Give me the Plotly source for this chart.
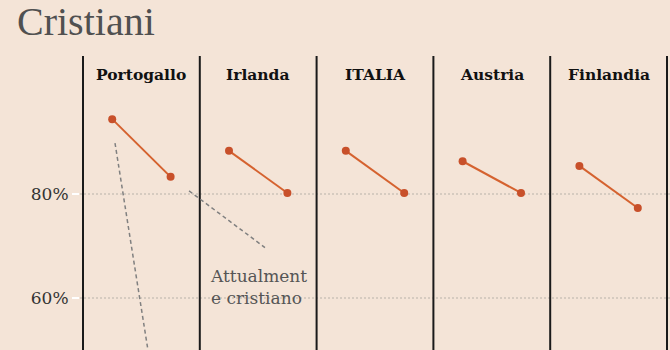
import plotly.graph_objects as go

# ---- data ----
countries = ["Portogallo", "Irlanda", "ITALIA", "Austria", "Finlandia"]
value_before = [94.4, 88.3, 88.3, 86.3, 85.4]
value_now = [83.3, 80.2, 80.2, 80.2, 77.3]
tick_values = [60, 80]
tick_labels = ["60%", "80%"]
title_text = "Cristiani"
note_text = "Attualment<br>e cristiano"

BG = "#F4E4D7"
LINE = "#D5622F"
DOT = "#C8502A"
SERIF = "DejaVu Serif"

fig = go.Figure()
for i, c in enumerate(countries):
    fig.add_trace(go.Scatter(
        x=[i + 0.25, i + 0.75],
        y=[value_before[i], value_now[i]],
        mode="lines+markers",
        line=dict(color=LINE, width=2),
        marker=dict(color=DOT, size=8),
        showlegend=False, hoverinfo="skip",
    ))

# panel dividers
for i in range(len(countries) + 1):
    fig.add_shape(type="line", xref="x", yref="paper", x0=i, x1=i, y0=0, y1=1,
                  line=dict(color="#1a1a1a", width=2), layer="above")

# column headers
for i, c in enumerate(countries):
    fig.add_annotation(x=i + 0.5, y=102.9, xref="x", yref="y", text=f"<b>{c}</b>",
                       showarrow=False, font=dict(family=SERIF, size=15.5, color="#111"))

# dashed annotation leader lines
fig.add_shape(type="line", xref="x", yref="y", x0=0.274, y0=89.8, x1=0.556, y1=50,
              line=dict(color="#808080", width=1.5, dash="4px,3px"))
fig.add_shape(type="line", xref="x", yref="y", x0=0.908, y0=80.6, x1=1.558, y1=69.7,
              line=dict(color="#808080", width=1.5, dash="4px,3px"))

fig.add_annotation(x=1.07, y=62.1, xref="x", yref="y", text=note_text,
                   showarrow=False, xanchor="left", yanchor="middle", align="left",
                   font=dict(family=SERIF, size=17, color="#555"))

fig.update_layout(
    width=670, height=350,
    margin=dict(l=80, r=0, t=56, b=0, pad=0),
    paper_bgcolor=BG, plot_bgcolor=BG,
    title=dict(text=title_text, x=17 / 670, xanchor="left", y=1 - 21 / 350, yanchor="middle",
               font=dict(family="Liberation Serif", size=40, color="#505050")),
    xaxis=dict(range=[-3 / 116.8, 587 / 116.8 + 0.0], showgrid=False, zeroline=False,
               showticklabels=False, fixedrange=True),
    yaxis=dict(range=[50, 106.54], tickvals=tick_values, ticktext=tick_labels,
               showgrid=True, gridcolor="#d6cbc0", gridwidth=1.5, griddash="2px,2px",
               zeroline=False, ticks="outside", ticklen=7, tickwidth=2, tickcolor="white",
               ticklabelstandoff=0,
               tickfont=dict(family=SERIF, size=17, color="#333")),
)

fig.write_html("out.html")
